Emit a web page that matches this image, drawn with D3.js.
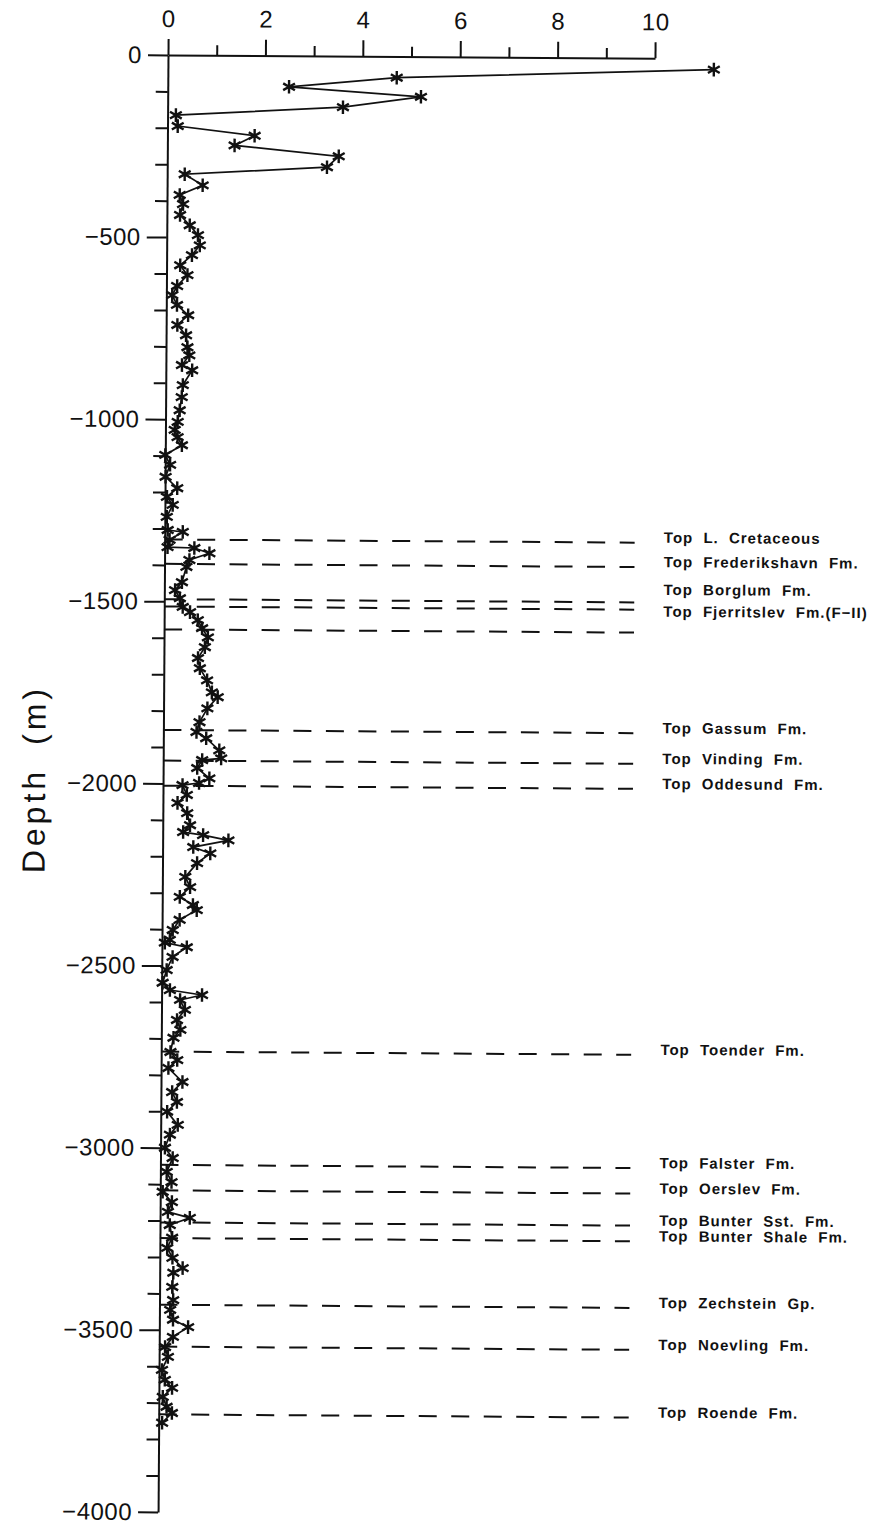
<!DOCTYPE html>
<html>
<head>
<meta charset="utf-8">
<script src="https://cdn.jsdelivr.net/npm/d3@7"></script>
<style>
  body { margin: 0; background: #fff; }
  svg { display: block; }
</style>
</head>
<body>
<svg id="chart"></svg>
<script>
// depth below surface (m, negative down) and measured value for each sample
const depth = [
  -30, -58, -85, -110, -140, -165, -195, -220, -247, -275, -305, -327, -357, -384, -409,
  -439, -467, -494, -522, -549, -577, -604, -634, -659, -686, -714, -741, -769, -802, -824,
  -851, -865, -906, -939, -975, -1007, -1029, -1049, -1071, -1098, -1125, -1158, -1189, -1213, -1235,
  -1268, -1304, -1309, -1331, -1351, -1353, -1367, -1386, -1405, -1447, -1469, -1491, -1515, -1529, -1551,
  -1573, -1598, -1625, -1655, -1683, -1716, -1749, -1762, -1793, -1831, -1858, -1875, -1908, -1930, -1935,
  -1957, -1985, -1998, -2004, -2031, -2053, -2081, -2114, -2133, -2141, -2155, -2174, -2191, -2218, -2256,
  -2284, -2311, -2333, -2347, -2374, -2402, -2429, -2437, -2449, -2476, -2512, -2547, -2567, -2580, -2594,
  -2621, -2649, -2676, -2698, -2737, -2759, -2781, -2819, -2847, -2874, -2901, -2937, -2964, -3000, -3028,
  -3066, -3094, -3121, -3149, -3176, -3192, -3212, -3247, -3275, -3302, -3330, -3343, -3382, -3418, -3445,
  -3472, -3492, -3519, -3547, -3574, -3610, -3637, -3659, -3684, -3711, -3728, -3755
];
const value = [
  11.21, 4.70, 2.49, 5.20, 3.60, 0.17, 0.21, 1.79, 1.38, 3.52, 3.28, 0.36, 0.73, 0.26, 0.33,
  0.27, 0.47, 0.64, 0.68, 0.52, 0.28, 0.43, 0.22, 0.12, 0.22, 0.45, 0.23, 0.41, 0.44, 0.48,
  0.33, 0.54, 0.35, 0.33, 0.29, 0.25, 0.19, 0.25, 0.34, 0.00, 0.10, 0.01, 0.25, 0.04, 0.16,
  0.04, 0.06, 0.37, 0.10, 0.06, 0.61, 0.92, 0.51, 0.45, 0.36, 0.22, 0.32, 0.38, 0.53, 0.69,
  0.78, 0.90, 0.84, 0.70, 0.74, 0.89, 0.99, 1.11, 0.90, 0.74, 0.68, 0.88, 1.15, 1.19, 0.80,
  0.70, 0.95, 0.74, 0.40, 0.49, 0.30, 0.50, 0.56, 0.42, 0.83, 1.35, 0.63, 0.98, 0.71, 0.47,
  0.57, 0.36, 0.63, 0.71, 0.36, 0.22, 0.16, 0.06, 0.51, 0.22, 0.10, 0.02, 0.17, 0.83, 0.38,
  0.48, 0.32, 0.39, 0.25, 0.19, 0.33, 0.15, 0.44, 0.23, 0.33, 0.13, 0.35, 0.19, 0.09, 0.25,
  0.13, 0.23, 0.05, 0.24, 0.16, 0.61, 0.20, 0.25, 0.15, 0.26, 0.47, 0.28, 0.26, 0.28, 0.22,
  0.28, 0.59, 0.28, 0.12, 0.18, 0.06, 0.12, 0.27, 0.08, 0.16, 0.27, 0.07
];

// formation tops (dashed lines)
const topDepths = [
  -1330, -1397, -1494, -1514, -1577, -1853, -1937, -2006,
  -2736, -3047, -3117, -3205, -3248, -3431, -3546, -3732
];
const topNames = [
  "Top L. Cretaceous", "Top Frederikshavn Fm.", "Top Borglum Fm.", "Top Fjerritslev Fm.(F\u2212II)",
  "Top Gassum Fm.", "Top Vinding Fm.", "Top Oddesund Fm.", "Top Toender Fm.",
  "Top Falster Fm.", "Top Oerslev Fm.", "Top Bunter Sst. Fm.", "Top Bunter Shale Fm.",
  "Top Zechstein Gp.", "Top Noevling Fm.", "Top Roende Fm."
];
const topLabelDepths = [
  -1330, -1397, -1473, -1533,
  -1853, -1937, -2006, -2736,
  -3047, -3117, -3205, -3248,
  -3431, -3546, -3732
];

const xTickValues = [0, 1, 2, 3, 4, 5, 6, 7, 8, 9, 10];
const xTickLabels = [0, 2, 4, 6, 8, 10];
const yTickValues = d3.range(0, -4001, -100);
const yTickLabels = [0, -500, -1000, -1500, -2000, -2500, -3000, -3500, -4000];

const width = 880, height = 1531;
const font = "'Liberation Sans', Arial, sans-serif";

const x = d3.scaleLinear().domain([0, 10]).range([168, 655]);
const y = d3.scaleLinear().domain([0, -4000]).range([55, 1512]);

const svg = d3.select("#chart").attr("width", width).attr("height", height);
svg.append("rect").attr("width", width).attr("height", height).attr("fill", "#fff");

// the scanned sheet is a little skewed
const chart = svg.append("g").attr("transform", `rotate(0.39, ${x(0)}, ${y(0)})`);

// top axis
const xAxisG = chart.append("g")
  .attr("transform", `translate(0,${y(0)})`)
  .call(d3.axisTop(x)
    .tickValues(xTickValues)
    .tickSize(16)
    .tickSizeOuter(0)
    .tickPadding(12)
    .tickFormat(d => xTickLabels.includes(d) ? d : ""));
xAxisG.selectAll(".tick line").attr("y2", d => xTickLabels.includes(d) ? -16 : -10);

// left axis
const yAxisG = chart.append("g")
  .attr("transform", `translate(${x(0)},0)`)
  .call(d3.axisLeft(y)
    .tickValues(yTickValues)
    .tickSize(12)
    .tickSizeOuter(0)
    .tickFormat(d => yTickLabels.includes(d) ? d3.format("")(d) : ""));
yAxisG.selectAll(".tick line").attr("x2", d => yTickLabels.includes(d) ? -20 : -12);
yAxisG.selectAll(".tick text").attr("x", -26);

chart.selectAll(".domain, .tick line").attr("stroke", "#111").attr("stroke-width", 2);
chart.selectAll(".tick text")
  .attr("fill", "#111")
  .style("font-family", font)
  .style("font-size", "24px")
  .style("letter-spacing", "0.5px");

// axis title
chart.append("text")
  .attr("transform", `translate(50,780) rotate(-90)`)
  .attr("text-anchor", "middle")
  .style("font-family", font)
  .style("font-size", "32px")
  .style("letter-spacing", "4px")
  .style("word-spacing", "10px")
  .attr("fill", "#111")
  .text("Depth (m)");

// formation tops
chart.selectAll(".top-line")
  .data(topDepths)
  .join("line")
  .attr("class", "top-line")
  .attr("x1", x(0))
  .attr("x2", x(9.65))
  .attr("y1", d => y(d))
  .attr("y2", d => y(d))
  .attr("stroke", "#111")
  .attr("stroke-width", 2)
  .attr("stroke-dasharray", "18,14.5");

chart.selectAll(".top-label")
  .data(topNames)
  .join("text")
  .attr("class", "top-label")
  .attr("x", x(10.25))
  .attr("y", (d, i) => y(topLabelDepths[i]))
  .style("font-family", font)
  .style("font-size", "15px")
  .style("font-weight", "bold")
  .style("letter-spacing", "1px")
  .style("word-spacing", "5px")
  .attr("fill", "#111")
  .text(d => d);

// log curve
const points = depth.map((d, i) => ({ d: d, v: value[i] }));

chart.append("path")
  .datum(points)
  .attr("fill", "none")
  .attr("stroke", "#111")
  .attr("stroke-width", 1.7)
  .attr("d", d3.line().x(p => x(p.v)).y(p => y(p.d)));

chart.selectAll(".star")
  .data(points)
  .join("path")
  .attr("class", "star")
  .attr("transform", p => `translate(${x(p.v)},${y(p.d)})`)
  .attr("d", d3.symbol(d3.symbolAsterisk, 130))
  .attr("fill", "none")
  .attr("stroke", "#111")
  .attr("stroke-width", 2.4);
</script>
</body>
</html>
